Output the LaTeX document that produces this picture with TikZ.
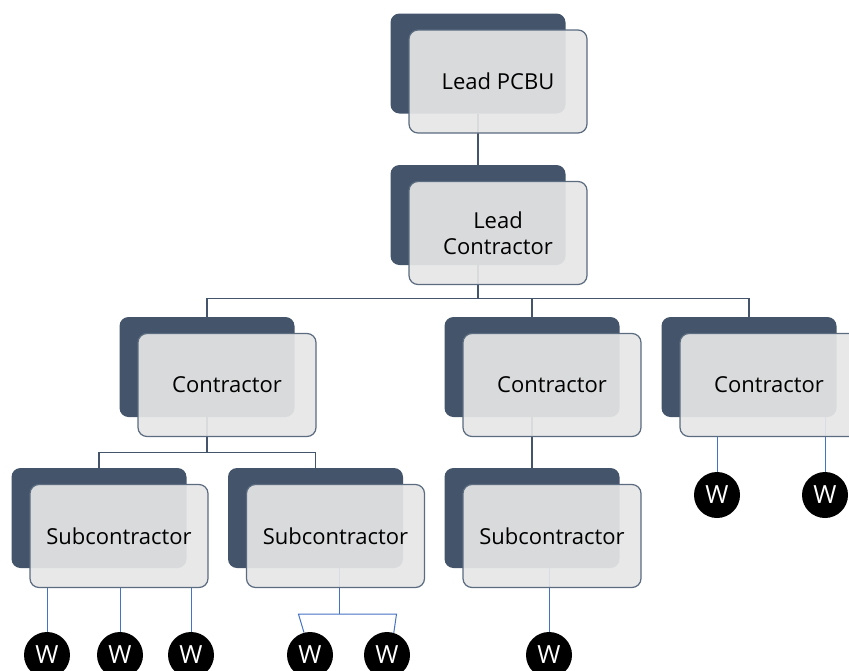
\documentclass[tikz,border=0pt]{standalone}
\usepackage{fontspec}
\setmainfont{Open Sans}
\usetikzlibrary{calc}
\definecolor{slate}{HTML}{44546A}
\definecolor{cardframe}{HTML}{5B6B80}
\definecolor{cardfill}{HTML}{E6E6E6}
\definecolor{wireblue}{HTML}{4472C4}

\begin{document}
\begin{tikzpicture}[x=1pt, y=-1pt]
            \tikzstyle{back card} = [draw=none, fill=slate, rounded corners=9pt, inner sep=0pt, minimum width=175pt, minimum height=100pt]
            \tikzstyle{front card} = [draw=cardframe, line width=1.2pt, fill=cardfill, fill opacity=0.92, text opacity=1, rounded corners=9pt, inner sep=0pt, minimum width=178pt, minimum height=103pt, align=center, font=\fontsize{22}{26}\selectfont]
            \tikzstyle{bus} = [draw=slate, line width=1.4pt]
            \tikzstyle{wire} = [draw=wireblue, line width=1pt]
            \tikzstyle{worker} = [circle, fill=black, text=white, inner sep=0pt, minimum size=46pt, font=\fontsize{25}{25}\selectfont]

            \useasboundingbox (0, 0) rectangle (849, 670);

            % where the front cards sit
            \coordinate (pcbu-pos) at (498, 81.5);
            \coordinate (lead-pos) at (498, 233);
            \coordinate (c1-pos) at (227, 385);
            \coordinate (c2-pos) at (552, 385);
            \coordinate (c3-pos) at (769, 385);
            \coordinate (s1-pos) at (119, 536);
            \coordinate (s2-pos) at (335.5, 536);
            \coordinate (s3-pos) at (552, 536);

            % dark cards behind
            \foreach \unit in {pcbu, lead, c1, c2, c3, s1, s2, s3} {
                \node[back card] (\unit-back) at ($(\unit-pos) + (-20, -18)$) {};
            }

            % workers
            \node[worker] (w1) at (47, 655) {W};
            \node[worker] (w2) at (120, 655) {W};
            \node[worker] (w3) at (191, 655) {W};
            \node[worker] (w4) at (310, 655) {W};
            \node[worker] (w5) at (387, 655) {W};
            \node[worker] (w6) at (549, 655) {W};
            \node[worker] (w7) at (717, 495) {W};
            \node[worker] (w8) at (825, 495) {W};

            % connectors under the front cards
            \draw[bus] (pcbu-back.south) -- (lead-back.north);
            \draw[bus] (lead-back.south) -- ++(0, 33) coordinate (lead-fork);
            \foreach \unit in {c1, c2, c3} {
                \draw[bus] (lead-fork) -| (\unit-back.north);
            }
            \draw[bus] (c1-back.south) -- ++(0, 35) coordinate (c1-fork);
            \draw[bus] (c1-fork) -| (s1-back.north);
            \draw[bus] (c1-fork) -| (s2-back.north);
            \draw[bus] (c2-back.south) -- (s3-back.north);

            \coordinate (s2-drop) at ($(s2-back.south) + (24, 0)$);
            \draw[wire] (s2-drop) -- ++(0, 46) coordinate (s2-fork);
            \draw[wire] (w4.105) -- ($(s2-fork) + (-41, 0)$) -- ($(s2-fork) + (57, 0)$) -- (w5.73);
            \draw[wire] (w6.north) -- (w6.north |- s3-back.south);
            \draw[wire] (w8.north) -- (w8.north |- c3-back.south);

            % light cards in front
            \node[front card] (pcbu) at (pcbu-pos) {Lead PCBU};
            \node[front card] (lead) at (lead-pos) {Lead\\Contractor};
            \node[front card] (c1) at (c1-pos) {Contractor};
            \node[front card] (c2) at (c2-pos) {Contractor};
            \node[front card] (c3) at (c3-pos) {Contractor};
            \node[front card] (s1) at (s1-pos) {Subcontractor};
            \node[front card] (s2) at (s2-pos) {Subcontractor};
            \node[front card] (s3) at (s3-pos) {Subcontractor};

            % connectors over the front cards
            \foreach \w in {w1, w2, w3} {
                \draw[wire] (\w.north) -- (\w.north |- s1.south);
            }
            \draw[wire] (w7.north) -- (w7.north |- c3.south);
        \end{tikzpicture}
\end{document}
